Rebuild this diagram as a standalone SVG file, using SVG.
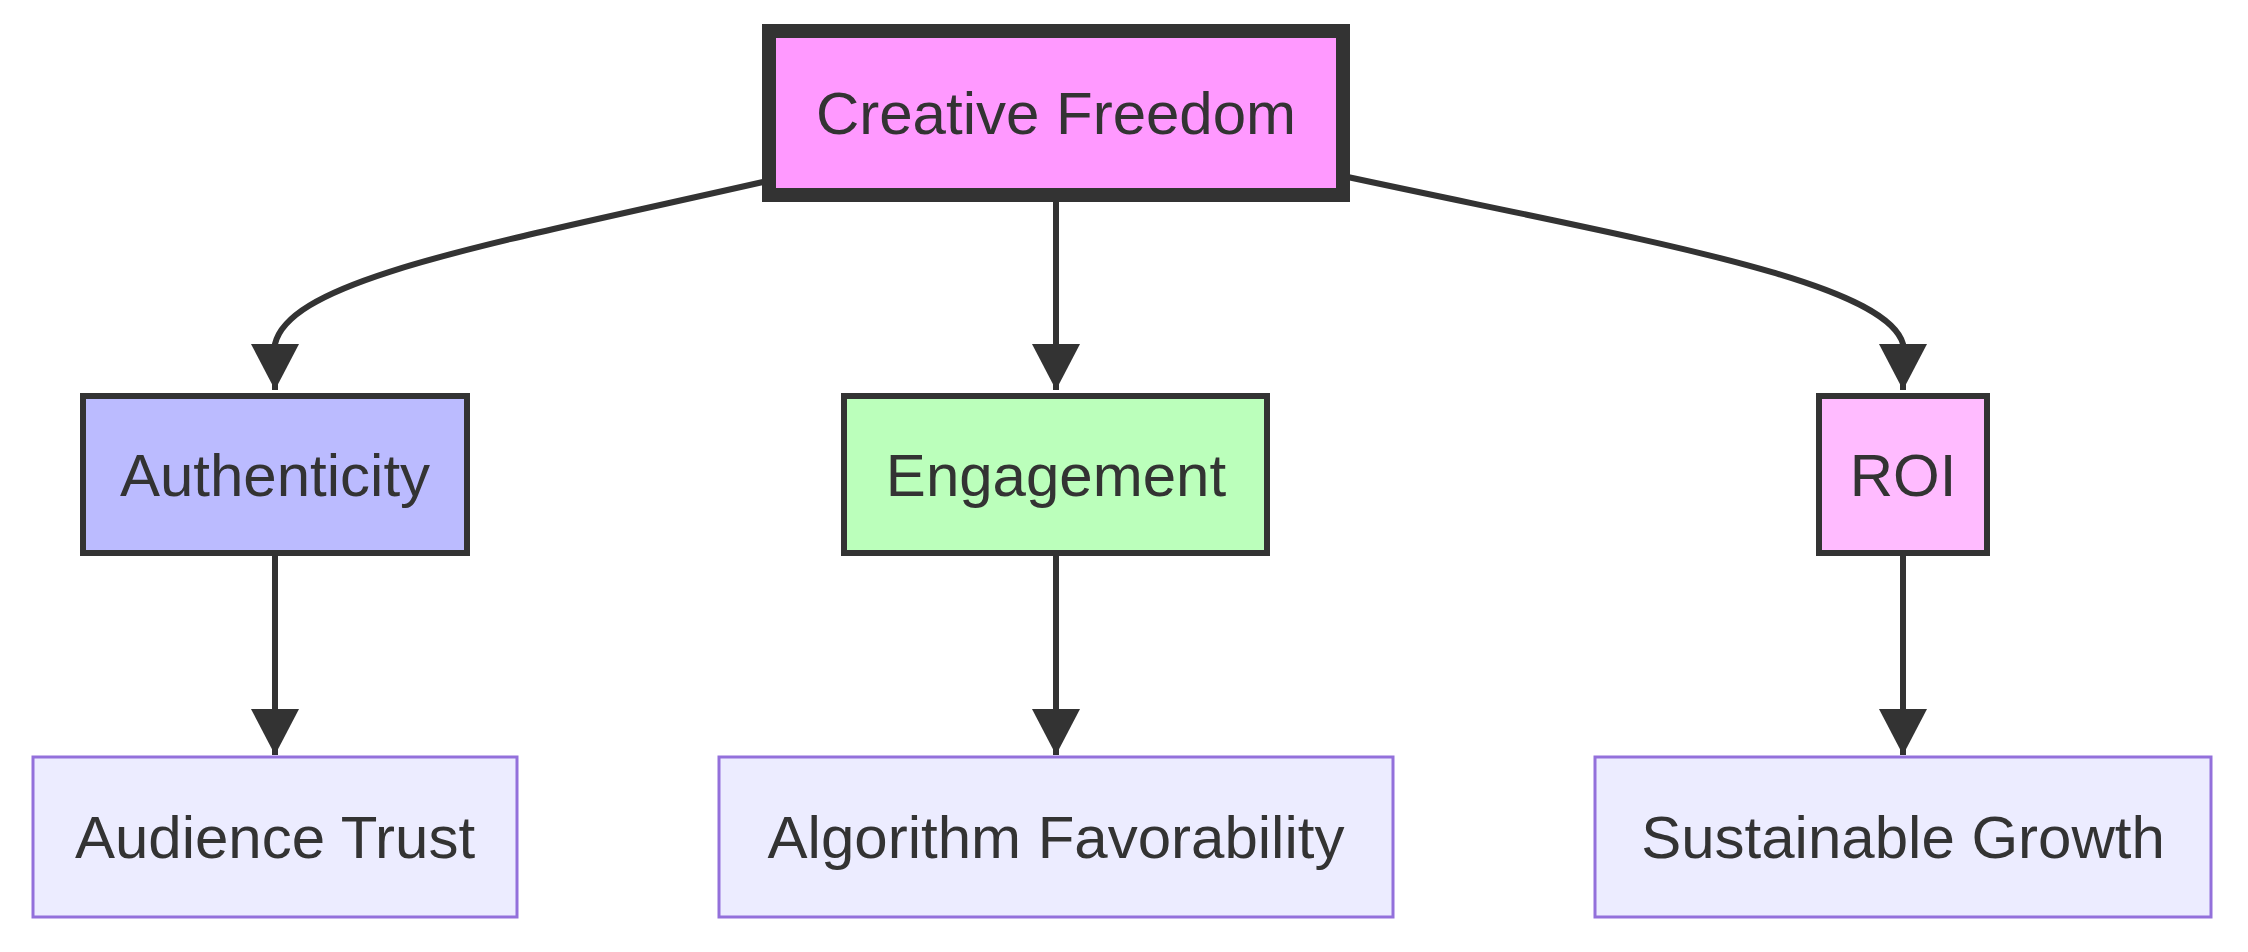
<svg xmlns="http://www.w3.org/2000/svg" width="2248" height="952" viewBox="0 0 2248 952">
<style>
text{font-family:"Liberation Sans",Arial,sans-serif;font-size:60px;fill:#333;text-anchor:middle;dominant-baseline:central}
.n{stroke:#333;stroke-width:6}
.b{fill:#ECECFF;stroke:#9370DB;stroke-width:3}
.e{fill:none;stroke:#333;stroke-width:6}
</style>
<defs><marker id="a" markerUnits="userSpaceOnUse" markerWidth="48" markerHeight="48" refX="46" refY="24" orient="auto"><path d="M0,0 L46,24 L0,48 Z" fill="#333"/></marker></defs>
<rect width="2248" height="952" fill="#fff"/>
<g id="edges">
<path class="e" d="M763,182 C480,246 290,280 275,344 L275,390" marker-end="url(#a)"/>
<path class="e" d="M1056,202 L1056,390" marker-end="url(#a)"/>
<path class="e" d="M1343,176 C1640,240 1885,280 1903,344 L1903,390" marker-end="url(#a)"/>
<path class="e" d="M275,556 L275,755" marker-end="url(#a)"/>
<path class="e" d="M1056,556 L1056,755" marker-end="url(#a)"/>
<path class="e" d="M1903,556 L1903,755" marker-end="url(#a)"/>
</g>
<g id="cf"><rect x="769" y="31" width="574" height="164" fill="#ff99ff" stroke="#333" stroke-width="14"/><text x="1056" y="113">Creative Freedom</text></g>
<g id="au"><rect class="n" x="83" y="396" width="384" height="157" fill="#bbbbff"/><text x="275" y="475">Authenticity</text></g>
<g id="en"><rect class="n" x="844" y="396" width="423" height="157" fill="#bbffbb"/><text x="1056" y="475">Engagement</text></g>
<g id="roi"><rect class="n" x="1819" y="396" width="168" height="157" fill="#ffbbff"/><text x="1903" y="475">ROI</text></g>
<g id="at"><rect class="b" x="33" y="757" width="484" height="160"/><text x="275" y="837">Audience Trust</text></g>
<g id="af"><rect class="b" x="719" y="757" width="674" height="160"/><text x="1056" y="837">Algorithm Favorability</text></g>
<g id="sg"><rect class="b" x="1595" y="757" width="616" height="160"/><text x="1903" y="837">Sustainable Growth</text></g>
</svg>
